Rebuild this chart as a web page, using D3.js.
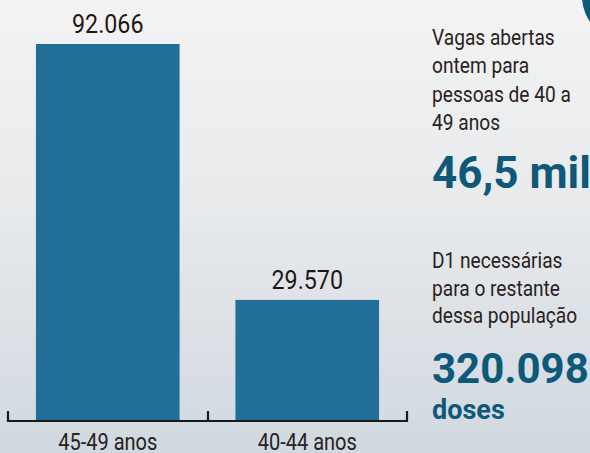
<!DOCTYPE html>
<html>
<head>
<meta charset="utf-8">
<script src="https://cdn.jsdelivr.net/npm/d3@7"></script>
<style>
  html, body { margin: 0; padding: 0; background: #eceef0; }
  svg { display: block; }
</style>
</head>
<body>
<svg id="chart"></svg>
<script>
// Vacinação 40-49 anos: barras + destaques à direita

const WIDTH = 590;
const HEIGHT = 453;

const categories = ["45-49 anos", "40-44 anos"];
const values = [92066, 29570];

const noteLines1 = ["Vagas abertas", "ontem para", "pessoas de 40 a", "49 anos"];
const highlight1 = "46,5 mil";
const noteLines2 = ["D1 necessárias", "para o restante", "dessa população"];
const highlight2 = "320.098";
const highlight2Unit = "doses";

const BAR_COLOR = "#216e96";
const DARK_BLUE = "#0e5879";
const TEXT_COLOR = "#2a2220";
const FONT = "Roboto, 'Noto Sans', sans-serif";
const NARROW = 0.87; // horizontal squeeze to mimic the condensed face

const svg = d3.select("#chart")
    .attr("width", WIDTH)
    .attr("height", HEIGHT);

// background: light top fading to bluish gray at the bottom
const defs = svg.append("defs");
const grad = defs.append("linearGradient")
    .attr("id", "bg")
    .attr("x1", 0).attr("y1", 0).attr("x2", 0).attr("y2", 1);
grad.append("stop").attr("offset", "0%").attr("stop-color", "#f3f3f3");
grad.append("stop").attr("offset", "45%").attr("stop-color", "#e8eaec");
grad.append("stop").attr("offset", "100%").attr("stop-color", "#d0d8e0");

svg.append("rect")
    .attr("width", WIDTH)
    .attr("height", HEIGHT)
    .attr("fill", "url(#bg)");

// corner circle peeking in at top right
svg.append("circle")
    .attr("cx", 628)
    .attr("cy", -4)
    .attr("r", 46)
    .attr("fill", DARK_BLUE);

// --- bars ---
const x = d3.scaleBand()
    .domain(categories)
    .range([8, 407])
    .paddingInner(0.28)
    .paddingOuter(0.14);

const y = d3.scaleLinear()
    .domain([0, d3.max(values)])
    .range([421, 44]);

const fmt = d3.formatLocale({ decimal: ",", thousands: ".", grouping: [3], currency: ["R$", ""] }).format(",d");

const g = svg.append("g");

g.selectAll("rect.bar")
    .data(values)
    .join("rect")
    .attr("class", "bar")
    .attr("x", (d, i) => x(categories[i]))
    .attr("y", d => y(d))
    .attr("width", x.bandwidth())
    .attr("height", d => y(0) - y(d))
    .attr("fill", BAR_COLOR);

g.selectAll("text.value")
    .data(values)
    .join("text")
    .attr("class", "value")
    .attr("transform", (d, i) => `translate(${x(categories[i]) + x.bandwidth() / 2},${y(d) - 11}) scale(0.93,1)`)
    .attr("text-anchor", "middle")
    .attr("font-family", FONT)
    .attr("font-size", "25px")
    .attr("fill", "#1e1612")
    .text(d => fmt(d));

// bracket-style axis
const axisY = y(0);
const tickXs = [8, 208, 407];

g.append("line")
    .attr("x1", 8).attr("x2", 407)
    .attr("y1", axisY).attr("y2", axisY)
    .attr("stroke", "#1a1a1a")
    .attr("stroke-width", 2.2);

g.selectAll("line.tick")
    .data(tickXs)
    .join("line")
    .attr("class", "tick")
    .attr("x1", d => d).attr("x2", d => d)
    .attr("y1", axisY - 10).attr("y2", axisY + 1)
    .attr("stroke", "#1a1a1a")
    .attr("stroke-width", 2.2);

g.selectAll("text.cat")
    .data(categories)
    .join("text")
    .attr("class", "cat")
    .attr("transform", d => `translate(${x(d) + x.bandwidth() / 2},450) scale(${NARROW},1)`)
    .attr("text-anchor", "middle")
    .attr("font-family", FONT)
    .attr("font-size", "23px")
    .attr("fill", TEXT_COLOR)
    .text(d => d);

// --- side notes ---
const side = svg.append("g").attr("transform", "translate(432,0)");

side.selectAll("text.note1")
    .data(noteLines1)
    .join("text")
    .attr("class", "note1")
    .attr("transform", (d, i) => `translate(0,${45 + i * 28.4}) scale(${NARROW},1)`)
    .attr("font-family", FONT)
    .attr("font-size", "22px")
    .attr("fill", TEXT_COLOR)
    .text(d => d);

side.append("text")
    .attr("x", 0)
    .attr("y", 188)
    .attr("font-family", FONT)
    .attr("font-weight", "bold")
    .attr("font-size", "44px")
    .attr("fill", DARK_BLUE)
    .text(highlight1);

side.selectAll("text.note2")
    .data(noteLines2)
    .join("text")
    .attr("class", "note2")
    .attr("transform", (d, i) => `translate(0,${268 + i * 27.5}) scale(${NARROW},1)`)
    .attr("font-family", FONT)
    .attr("font-size", "22px")
    .attr("fill", TEXT_COLOR)
    .text(d => d);

side.append("text")
    .attr("x", 0)
    .attr("y", 383)
    .attr("font-family", FONT)
    .attr("font-weight", "bold")
    .attr("font-size", "42px")
    .attr("fill", DARK_BLUE)
    .text(highlight2);

side.append("text")
    .attr("x", 0)
    .attr("y", 419)
    .attr("font-family", FONT)
    .attr("font-weight", "bold")
    .attr("font-size", "27px")
    .attr("fill", DARK_BLUE)
    .text(highlight2Unit);
</script>
</body>
</html>
